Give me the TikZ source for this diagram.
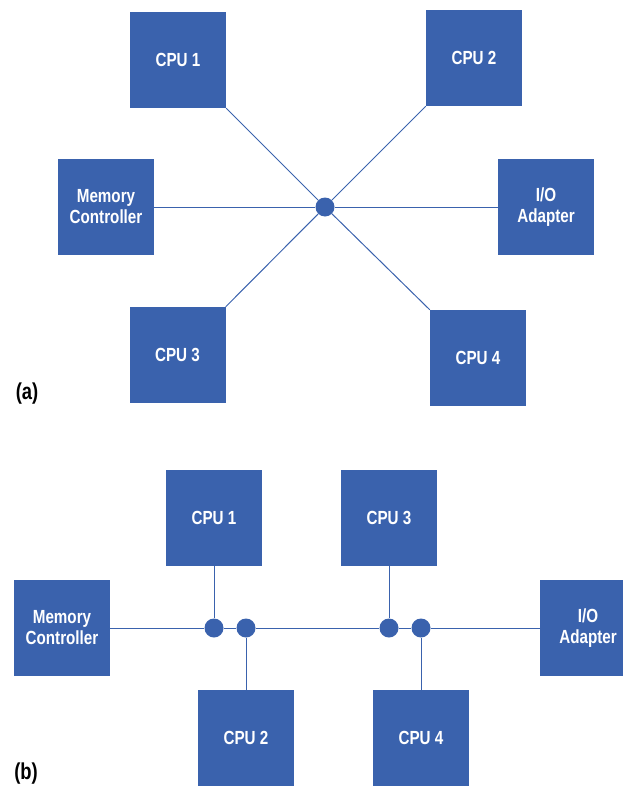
\documentclass[tikz,border=0pt]{standalone}
\usepackage{fontspec}
\setmainfont[FakeStretch=0.8]{Liberation Sans}
\definecolor{boxblue}{RGB}{58,98,173}
\begin{document}
\begin{tikzpicture}[x=1pt,y=-1pt,
  unit/.style={rectangle, fill=boxblue, minimum width=96pt, minimum height=96pt, inner sep=0pt,
    text=white, align=center, font=\fontsize{19}{21}\selectfont\bfseries},
  hubdot/.style={circle, fill=boxblue, minimum size=19pt, inner sep=0pt},
  wire/.style={draw=boxblue, line width=1pt},
  tag/.style={font=\fontsize{23}{25}\selectfont\bfseries, text=black, inner sep=0pt}]
\useasboundingbox (0,0) rectangle (623,787);
% (a)
\node[unit] (cpu1a) at (178,60) {CPU 1};
\node[unit] (cpu2a) at (474,58) {CPU 2};
\node[unit] (mema) at (106,207) {Memory\\Controller};
\node[unit] (ioa) at (546,207) {I/O\\Adapter};
\node[unit] (cpu3a) at (177.5,355) {CPU 3};
\node[unit] (cpu4a) at (478,358) {CPU 4};
\node[hubdot] (hub) at (325,207) {};
\draw[wire] (cpu1a.south east) -- (hub);
\draw[wire] (cpu2a.south west) -- (hub);
\draw[wire] (cpu3a.north east) -- (hub);
\draw[wire] (cpu4a.north west) -- (hub);
\draw[wire] (mema.east) -- (hub);
\draw[wire] (ioa.west) -- (hub);
\node[tag] (la) at (27,394) {(a)};
% (b)
\node[unit] (memb) at (62,628) {Memory\\Controller};
\node[unit] (cpu1b) at (214,518) {CPU 1};
\node[unit] (cpu3b) at (389,518) {CPU 3};
\node[unit] (iob) at (588,628) {I/O\\Adapter};
\node[unit] (cpu2b) at (246,738) {CPU 2};
\node[unit] (cpu4b) at (421,738) {CPU 4};
\node[hubdot] (d1) at (214,628) {};
\node[hubdot] (d2) at (246,628) {};
\node[hubdot] (d3) at (389,628) {};
\node[hubdot] (d4) at (421,628) {};
\draw[wire] (memb.east) -- (d1);
\draw[wire] (d1) -- (d2);
\draw[wire] (d2) -- (d3);
\draw[wire] (d3) -- (d4);
\draw[wire] (d4) -- (iob.west);
\draw[wire] (cpu1b.south) -- (d1);
\draw[wire] (cpu3b.south) -- (d3);
\draw[wire] (cpu2b.north) -- (d2);
\draw[wire] (cpu4b.north) -- (d4);
\node[tag] (lb) at (26,774) {(b)};
\end{tikzpicture}
\end{document}
